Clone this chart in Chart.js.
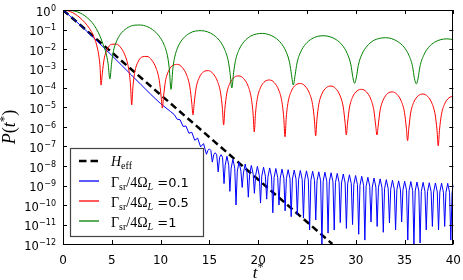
<!DOCTYPE html>
<html><head><meta charset="utf-8">
<script src="https://cdn.jsdelivr.net/npm/chart.js@4.4.1/dist/chart.umd.min.js"></script>
<style>html,body{margin:0;padding:0;background:#fff}canvas{display:block}</style>
</head><body>
<canvas id="c" width="463" height="280"></canvas>
<script>
// ---- tick values ----
const xTicks = [0,5,10,15,20,25,30,35,40];
const yTickExps = [0,-1,-2,-3,-4,-5,-6,-7,-8,-9,-10,-11,-12];

// ---- H_eff (dashed) : t and log10 P ----
const dashT = [0, 27.6];
const dashLog10P = [0, -12];

// ---- Gamma_sr/4Omega_L = 0.1 (blue) ----
const blueT = [0,1,2,3,4,5,6,7,8,9,10,11,
11.4,11.7,12.0,12.3,12.6,12.9,13.2,13.5,13.8,14.1,14.4,14.7,
14.85,15.0,15.15,15.3,15.45,15.6,15.75,15.9,16.05,16.2,16.35,16.5,
16.62,16.8,16.98,
17.10,17.23,17.41,17.60, 17.73,17.86,18.04,18.23, 18.36,18.49,18.67,18.86,
18.99,19.12,19.30,19.49, 19.61,19.74,19.92,20.11, 20.24,20.37,20.55,20.74,
20.87,21.00,21.18,21.37, 21.50,21.63,21.81,22.00, 22.13,22.26,22.44,22.63,
22.76,22.89,23.07,23.26, 23.38,23.51,23.69,23.88, 24.01,24.14,24.32,24.51,
24.64,24.77,24.95,25.14, 25.27,25.40,25.58,25.77, 25.90,26.03,26.21,26.40,
26.53,26.66,26.84,27.03, 27.16,27.29,27.47,27.66, 27.79,27.92,28.10,28.29,
28.41,28.54,28.72,28.91, 29.04,29.17,29.35,29.54, 29.67,29.80,29.98,30.17,
30.30,30.43,30.61,30.80, 30.93,31.06,31.24,31.43, 31.56,31.69,31.87,32.06,
32.19,32.32,32.50,32.69, 32.82,32.95,33.13,33.32, 33.45,33.58,33.76,33.95,
34.08,34.21,34.39,34.58, 34.70,34.83,35.01,35.20, 35.33,35.46,35.64,35.83,
35.96,36.09,36.27,36.46, 36.59,36.72,36.90,37.09, 37.22,37.35,37.53,37.72,
37.85,37.98,38.16,38.35, 38.48,38.61,38.79,38.98, 39.11,39.24,39.42,39.61,
39.74,39.87,40.0];
const blueLog10P = [0,-0.43,-0.88,-1.36,-1.84,-2.33,-2.83,-3.33,-3.83,-4.33,-4.8,-5.2,
-5.36,-5.6,-5.63,-5.97,-5.95,-6.32,-6.27,-6.68,-6.57,-7.02,-6.85,-7.4,
-7.2,-7.12,-7.2,-7.8,-7.42,-7.32,-7.42,-8.3,-7.55,-7.42,-7.55,-8.9,
-7.96,-7.5,-7.96,
-9.3,-8.11,-7.65,-8.11, -10.0,-8.26,-7.80,-8.26, -9.1,-8.36,-7.90,-8.36,
-9.6,-8.43,-7.97,-8.43, -9.4,-8.48,-8.02,-8.48, -9.9,-8.52,-8.06,-8.52,
-9.7,-8.56,-8.10,-8.56, -10.4,-8.59,-8.13,-8.59, -10.0,-8.62,-8.16,-8.62,
-10.3,-8.65,-8.19,-8.65, -10.6,-8.67,-8.21,-8.67, -10.5,-8.69,-8.23,-8.69,
-10.67,-8.71,-8.25,-8.71, -11.28,-8.73,-8.27,-8.73, -10.77,-8.76,-8.30,-8.76,
-12.0,-8.78,-8.32,-8.78, -11.44,-8.81,-8.35,-8.81, -11.28,-8.84,-8.38,-8.84,
-10.9,-8.87,-8.41,-8.87, -11.2,-8.91,-8.45,-8.91, -11.0,-8.95,-8.49,-8.95,
-11.5,-8.99,-8.53,-8.99, -11.8,-9.04,-8.58,-9.04, -10.87,-9.08,-8.62,-9.08,
-11.1,-9.12,-8.66,-9.12, -11.4,-9.16,-8.70,-9.16, -10.92,-9.19,-8.73,-9.19,
-11.28,-9.22,-8.76,-9.22, -10.87,-9.24,-8.78,-9.24, -11.8,-9.26,-8.80,-9.26,
-12.0,-9.28,-8.82,-9.28, -11.95,-9.30,-8.84,-9.30, -11.28,-9.32,-8.86,-9.32,
-11.1,-9.33,-8.87,-9.33, -11.28,-9.34,-8.88,-9.34, -11.1,-9.35,-8.89,-9.35,
-11.8,-9.36,-8.96];

// ---- Gamma_sr/4Omega_L = 0.5 (red) ----
const redT = [0,0.5,1,1.5,2,2.5,2.9,3.2,3.5,3.7,3.8,3.9,
4.026,4.214,4.528,4.999,5.47,5.941,6.412,6.726,6.914,7.04,
7.166,7.354,7.668,8.139,8.61,9.081,9.552,9.866,10.054,10.18,
10.306,10.494,10.808,11.279,11.75,12.221,12.692,13.006,13.194,13.32,
13.446,13.634,13.948,14.419,14.89,15.361,15.832,16.146,16.334,16.46,
16.586,16.774,17.088,17.559,18.03,18.501,18.972,19.286,19.474,19.6,
19.726,19.914,20.228,20.699,21.17,21.641,22.112,22.426,22.614,22.75,
22.876,23.064,23.378,23.849,24.32,24.791,25.262,25.576,25.764,25.89,
26.016,26.204,26.518,26.989,27.46,27.931,28.402,28.716,28.904,29.03,
29.156,29.344,29.658,30.129,30.6,31.071,31.542,31.856,32.044,32.17,
32.296,32.484,32.798,33.269,33.74,34.211,34.682,34.996,35.184,35.31,
35.436,35.624,35.938,36.409,36.88,37.351,37.822,38.136,38.324,38.45,
38.576,38.764,39.078,39.549,40];
const redLog10P = [0,-0.04,-0.14,-0.3,-0.52,-0.8,-1.1,-1.42,-1.9,-2.45,-2.95,-3.85,
-3.26,-2.52,-2.02,-1.755,-1.75,-1.945,-2.40,-3.02,-3.84,-4.87,
-3.94,-3.19,-2.68,-2.40,-2.38,-2.56,-3.00,-3.61,-4.42,-5.03,
-4.42,-3.66,-3.14,-2.83,-2.79,-2.95,-3.36,-3.96,-4.76,-5.38,
-4.77,-4.01,-3.48,-3.165,-3.11,-3.255,-3.66,-4.25,-5.05,-5.9,
-5.07,-4.30,-3.77,-3.445,-3.38,-3.515,-3.91,-4.50,-5.29,-6.25,
-5.30,-4.53,-3.99,-3.66,-3.59,-3.72,-4.11,-4.69,-5.48,-6.5,
-5.50,-4.73,-4.18,-3.845,-3.77,-3.895,-4.28,-4.85,-5.64,-6.46,
-5.63,-4.86,-4.315,-3.98,-3.9,-4.02,-4.405,-4.98,-5.77,-6.41,
-5.80,-5.03,-4.485,-4.15,-4.07,-4.19,-4.575,-5.15,-5.94,-6.41,
-5.945,-5.17,-4.625,-4.28,-4.2,-4.32,-4.695,-5.27,-6.055,-6.7,
-6.06,-5.285,-4.735,-4.395,-4.31,-4.425,-4.805,-5.375,-6.16,-6.97,
-6.17,-5.40,-4.85,-4.505,-4.42];

// ---- Gamma_sr/4Omega_L = 1 (green) ----
const greenT = [0,0.5,1,1.5,2,2.5,3,3.4,3.8,4.1,4.4,4.62,4.8,
4.988,5.177,5.554,6.056,6.684,7.312,7.94,8.568,9.196,9.824,10.326,10.703,10.882,11.07,
11.257,11.444,11.818,12.316,12.939,13.562,14.185,14.808,15.431,16.054,16.552,16.926,17.113,17.3,
17.489,17.678,18.056,18.56,19.19,19.82,20.45,21.08,21.71,22.34,22.844,23.222,23.411,23.6,
23.788,23.977,24.354,24.856,25.484,26.112,26.74,27.368,27.996,28.624,29.126,29.503,29.692,29.88,
30.07,30.259,30.638,31.144,31.776,32.408,33.04,33.672,34.304,34.936,35.442,35.821,36.01,36.2,
36.388,36.577,36.954,37.456,38.084,38.712,39.34,40];
const greenLog10P = [0,-0.01,-0.04,-0.1,-0.22,-0.4,-0.65,-0.95,-1.35,-1.75,-2.2,-2.75,-3.54,
-2.68,-2.09,-1.53,-1.14,-0.89,-0.78,-0.77,-0.84,-1.01,-1.32,-1.75,-2.35,-2.96,-4.07,
-3.01,-2.42,-1.85,-1.46,-1.20,-1.08,-1.06,-1.12,-1.28,-1.58,-2.01,-2.60,-3.21,-4.0,
-3.19,-2.59,-2.02,-1.62,-1.35,-1.23,-1.2,-1.26,-1.41,-1.70,-2.12,-2.71,-3.31,-3.85,
-3.32,-2.72,-2.15,-1.75,-1.48,-1.35,-1.32,-1.375,-1.52,-1.81,-2.23,-2.82,-3.42,-3.76,
-3.43,-2.84,-2.26,-1.86,-1.58,-1.46,-1.42,-1.47,-1.62,-1.90,-2.32,-2.90,-3.51,-3.79,
-3.50,-2.90,-2.33,-1.92,-1.65,-1.52,-1.48,-1.52];

const seriesColors = ['#0000ff', '#ff0000', '#008000'];
const seriesValues = ['0.1', '0.5', '1'];

const toPoints = (ts, logs) => ts.map((t, i) => ({x: t, y: Math.pow(10, logs[i])}));

const SERIF = '"Liberation Serif", "DejaVu Serif", serif';
const SANS = '"DejaVu Sans", sans-serif';

function drawSegs(ctx, x, y, segs) {
  for (const s of segs) {
    ctx.font = s.f;
    ctx.fillText(s.t, x, y + (s.dy || 0));
    x += ctx.measureText(s.t).width;
  }
  return x;
}
function segsWidth(ctx, segs) {
  let w = 0;
  for (const s of segs) { ctx.font = s.f; w += ctx.measureText(s.t).width; }
  return w;
}

const deco = {
  id: 'deco',
  afterDraw(chart) {
    const {ctx, chartArea: a, scales: {x, y}} = chart;
    ctx.save();
    ctx.setLineDash([]);
    ctx.fillStyle = '#000';
    ctx.strokeStyle = '#000';
    // frame
    ctx.lineWidth = 1;
    ctx.strokeRect(Math.round(a.left) + 0.5, Math.round(a.top) + 0.5,
                   Math.round(a.right - a.left) - 1, Math.round(a.bottom - a.top));
    // inward ticks
    ctx.beginPath();
    for (const v of xTicks) {
      const px = Math.round(x.getPixelForValue(v)) + 0.5;
      ctx.moveTo(px, a.bottom); ctx.lineTo(px, a.bottom - 4);
      ctx.moveTo(px, a.top); ctx.lineTo(px, a.top + 4);
    }
    for (const e of yTickExps) {
      const py = Math.round(y.getPixelForValue(Math.pow(10, e))) + 0.5;
      ctx.moveTo(a.left, py); ctx.lineTo(a.left + 4, py);
      ctx.moveTo(a.right, py); ctx.lineTo(a.right - 4, py);
    }
    ctx.stroke();
    // y tick labels 10^e
    ctx.textAlign = 'left';
    ctx.textBaseline = 'alphabetic';
    const xr = a.left - 7;
    for (const e of yTickExps) {
      const py = y.getPixelForValue(Math.pow(10, e));
      const expTxt = e === 0 ? '0' : '\u2212' + (-e);
      ctx.font = '8px ' + SANS;
      const ew = ctx.measureText(expTxt).width;
      ctx.fillText(expTxt, xr - ew, py + 0.5);
      ctx.font = '11.5px ' + SANS;
      const bw = ctx.measureText('10').width;
      ctx.fillText('10', xr - ew - bw - 0.3, py + 5.8);
    }
    // x axis title t*
    const xt = [{t: 't', f: 'italic 17px ' + SERIF}, {t: '*', f: '12px ' + SERIF, dy: -7}];
    const xw = segsWidth(ctx, xt);
    drawSegs(ctx, (a.left + a.right) / 2 - xw / 2, 277.5, xt);
    // y axis title P(t*)
    const yt = [{t: 'P', f: 'italic 18px ' + SERIF}, {t: '(', f: '18px ' + SERIF},
                {t: 't', f: 'italic 18px ' + SERIF}, {t: '*', f: '13px ' + SERIF, dy: -7},
                {t: ')', f: '18px ' + SERIF}];
    const yw = segsWidth(ctx, yt);
    ctx.save();
    ctx.translate(15, (a.top + a.bottom) / 2);
    ctx.rotate(-Math.PI / 2);
    drawSegs(ctx, -yw / 2, 0, yt);
    ctx.restore();
    // legend box
    const bx = 70.5, by = 148.5, bw2 = 133, bh = 88;
    ctx.fillStyle = '#fff';
    ctx.fillRect(bx, by, bw2, bh);
    ctx.strokeStyle = '#444';
    ctx.lineWidth = 1.2;
    ctx.strokeRect(bx, by, bw2, bh);
    const MR = '14px ' + SERIF, MI = 'italic 14px ' + SERIF;
    const SR = '10px ' + SERIF, SI = 'italic 10px ' + SERIF, TX = '13px ' + SANS;
    // H_eff row: dashed sample
    let ly = 161;
    ctx.strokeStyle = '#000';
    ctx.lineWidth = 2.5;
    ctx.setLineDash([7.5, 4]);
    ctx.beginPath(); ctx.moveTo(79, ly); ctx.lineTo(99, ly); ctx.stroke();
    ctx.setLineDash([]);
    ctx.fillStyle = '#000';
    drawSegs(ctx, 111, ly + 5, [{t: 'H', f: MI}, {t: 'eff', f: SR, dy: 3}]);
    for (let i = 0; i < 3; i++) {
      ly = 181 + i * 20;
      ctx.strokeStyle = seriesColors[i];
      ctx.lineWidth = 1.3;
      ctx.beginPath(); ctx.moveTo(79, ly); ctx.lineTo(99, ly); ctx.stroke();
      ctx.fillStyle = '#000';
      drawSegs(ctx, 111, ly + 5.5, [
        {t: '\u0393', f: MR}, {t: 'sr', f: SR, dy: 3}, {t: '/4', f: MR},
        {t: '\u03A9', f: MR}, {t: 'L', f: SI, dy: 3}, {t: ' =' + seriesValues[i], f: TX}]);
    }
    ctx.restore();
  }
};

new Chart(document.getElementById('c'), {
  type: 'line',
  data: {
    datasets: [
      {label: 'G1', data: toPoints(greenT, greenLog10P), borderColor: seriesColors[2], borderWidth: 1,
       pointRadius: 0, cubicInterpolationMode: 'monotone', fill: false},
      {label: 'G05', data: toPoints(redT, redLog10P), borderColor: seriesColors[1], borderWidth: 1,
       pointRadius: 0, cubicInterpolationMode: 'monotone', fill: false},
      {label: 'G01', data: toPoints(blueT, blueLog10P), borderColor: seriesColors[0], borderWidth: 1,
       pointRadius: 0, tension: 0, fill: false},
      {label: 'Heff', data: toPoints(dashT, dashLog10P), borderColor: '#000', borderWidth: 2.5,
       borderDash: [7, 4], pointRadius: 0, tension: 0, fill: false}
    ]
  },
  options: {
    responsive: false, animation: false, devicePixelRatio: 1,
    layout: {padding: {left: 0, right: 9, top: 10, bottom: 0}},
    plugins: {legend: {display: false}, tooltip: {enabled: false}},
    scales: {
      x: {
        type: 'linear', min: 0, max: 40,
        afterBuildTicks: s => { s.ticks = xTicks.map(v => ({value: v})); },
        ticks: {font: {family: 'DejaVu Sans', size: 12}, color: '#000', padding: 2,
                maxRotation: 0, autoSkip: false},
        grid: {display: false},
        border: {display: false},
        afterFit: s => { s.height = 36; }
      },
      y: {
        type: 'logarithmic', min: 1e-12, max: 1,
        afterBuildTicks: s => { s.ticks = yTickExps.map(e => ({value: Math.pow(10, e)})); },
        ticks: {display: false},
        grid: {display: false},
        border: {display: false},
        afterFit: s => { s.width = 63; }
      }
    }
  },
  plugins: [deco]
});
</script>
</body></html>
